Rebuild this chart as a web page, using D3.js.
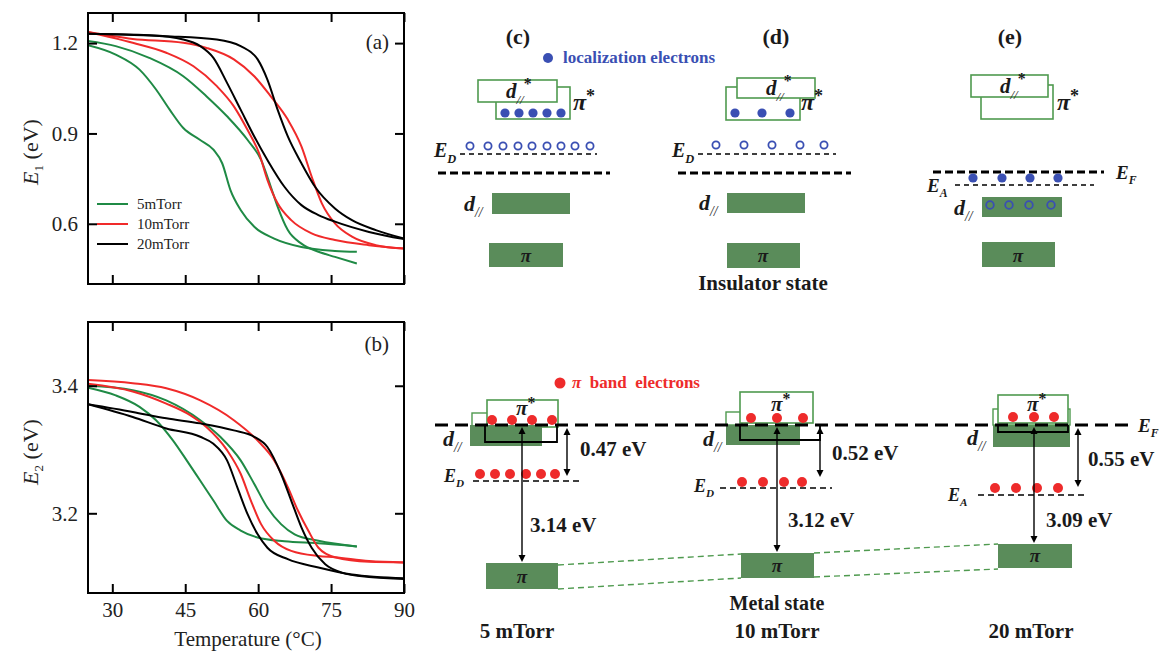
<!DOCTYPE html>
<html>
<head>
<meta charset="utf-8">
<script src="https://cdn.jsdelivr.net/npm/d3@7"></script>
<style>
  html, body { margin: 0; padding: 0; background: #fff; }
  svg { display: block; }
  text { font-family: "Liberation Serif", "Times New Roman", serif; }
</style>
</head>
<body>
<script>
// ---------------- DATA ----------------
const pressures = ["5mTorr", "10mTorr", "20mTorr"];
const seriesColors = ["#1f8a45", "#f02a2a", "#000000"];
const xTicks = [30, 45, 60, 75, 90];
const e1Ticks = [0.6, 0.9, 1.2];
const e2Ticks = [3.2, 3.4];

// E1 (eV) vs temperature, two branches per pressure
const e1_5_a = [[25,1.193],[30.7,1.162],[35.6,1.112],[39,1.046],[41.8,0.979],[44.6,0.918],[48,0.879],[50.8,0.846],[52.6,0.801],[54.3,0.712],[56.4,0.646],[59.2,0.590],[63.3,0.551],[68.9,0.523],[75.8,0.510],[80.3,0.507]];
const e1_5_b = [[25,1.207],[30.7,1.19],[37.6,1.151],[44.6,1.09],[49.4,1.023],[53.6,0.957],[57.8,0.879],[60.6,0.812],[62.6,0.723],[64.0,0.657],[66.1,0.579],[68.9,0.534],[72.4,0.507],[75.8,0.49],[80.3,0.468]];
const e1_10_a = [[25,1.237],[34.2,1.201],[41.1,1.168],[46.7,1.123],[51.5,1.057],[55.0,0.99],[57.8,0.912],[60.2,0.834],[61.9,0.746],[64.0,0.668],[66.8,0.612],[71.0,0.568],[75.8,0.546],[82.8,0.529],[90,0.518]];
const e1_10_b = [[25,1.237],[34.2,1.214],[44.6,1.201],[49.4,1.184],[55.0,1.146],[59.2,1.09],[62.6,1.023],[66.1,0.946],[68.9,0.857],[71.0,0.757],[73.1,0.668],[75.8,0.601],[79.3,0.557],[84.2,0.529],[90,0.518]];
const e1_20_a = [[25,1.231],[37.6,1.226],[44.6,1.212],[48.1,1.19],[50.8,1.151],[53.6,1.068],[56.4,0.979],[59.2,0.89],[61.9,0.812],[65.4,0.723],[68.9,0.662],[72.4,0.629],[75.8,0.607],[82.8,0.573],[90,0.549]];
const e1_20_b = [[25,1.231],[41.1,1.223],[51.5,1.212],[56.4,1.19],[59.9,1.146],[61.9,1.079],[64.0,0.979],[66.1,0.89],[68.9,0.801],[71.7,0.723],[75.8,0.651],[79.3,0.612],[84.2,0.579],[90,0.551]];

// E2 (eV) vs temperature
const e2_5_a = [[25,3.397],[30.7,3.385],[35.6,3.367],[39,3.346],[42.5,3.314],[45.3,3.283],[48.1,3.251],[50.8,3.22],[53.6,3.188],[56.4,3.173],[59.9,3.162],[65.4,3.156],[72.4,3.153],[80.3,3.148]];
const e2_5_b = [[25,3.4],[34.2,3.393],[41.1,3.377],[48.1,3.346],[52.2,3.320],[56.4,3.283],[59.2,3.246],[61.9,3.209],[64.7,3.183],[67.5,3.167],[72.4,3.157],[80.3,3.148]];
const e2_10_a = [[25,3.403],[34.2,3.391],[41.1,3.372],[46,3.354],[49.4,3.335],[53.6,3.299],[56.4,3.262],[58.5,3.220],[60.6,3.183],[63.3,3.157],[66.8,3.141],[72.4,3.133],[75.8,3.131],[82.8,3.125],[90,3.123]];
const e2_10_b = [[25,3.409],[34.2,3.404],[41.1,3.396],[48.1,3.377],[55.0,3.346],[59.9,3.314],[63.3,3.283],[66.1,3.241],[68.2,3.204],[70.3,3.173],[72.4,3.146],[75.8,3.131],[82.8,3.124],[90,3.123]];
const e2_20_a = [[25,3.371],[34.2,3.351],[41.1,3.333],[48.1,3.320],[50.8,3.309],[53.6,3.283],[55.7,3.241],[57.8,3.199],[59.9,3.167],[61.9,3.146],[66.1,3.128],[72.4,3.115],[79.3,3.104],[90,3.098]];
const e2_20_b = [[25,3.371],[34.2,3.359],[41.1,3.349],[48.1,3.341],[55.0,3.330],[59.2,3.320],[61.9,3.304],[64.7,3.262],[66.8,3.220],[68.9,3.178],[71.0,3.146],[73.8,3.120],[77.2,3.107],[82.8,3.100],[90,3.097]];

// band-diagram annotations
const panelLetters = ["(c)", "(d)", "(e)"];
const sampleLabels = ["5 mTorr", "10 mTorr", "20 mTorr"];
const activationGaps = ["0.47 eV", "0.52 eV", "0.55 eV"];
const opticalGaps = ["3.14 eV", "3.12 eV", "3.09 eV"];

// ---------------- SETUP ----------------
const W = 1159, H = 651;
const SERIF = "Liberation Serif, Times New Roman, serif";
const svg = d3.select("body").append("svg").attr("width", W).attr("height", H);

const x = d3.scaleLinear().domain([25, 90]).range([88, 404]);
const yA = d3.scaleLinear().domain([0.4, 1.3]).range([284, 13]);
const yB = d3.scaleLinear().domain([3.075, 3.5]).range([593, 322]);

function drawPanel(y, series, yTicks, showX, letter, letterY, yLabelSub, yLabelCenter) {
  const g = svg.append("g");
  const [y0, y1] = y.range();
  const clipId = "clip" + letter.replace(/\W/g, "");
  svg.append("clipPath").attr("id", clipId).append("rect")
    .attr("x", x.range()[0]).attr("y", y1).attr("width", x.range()[1] - x.range()[0]).attr("height", y0 - y1);
  const line = d3.line().x(d => x(d[0])).y(d => y(d[1])).curve(d3.curveMonotoneX);
  const lg = g.append("g").attr("clip-path", `url(#${clipId})`);
  series.forEach(s => {
    lg.append("path").datum(s.data).attr("d", line)
      .attr("fill", "none").attr("stroke", s.color).attr("stroke-width", 2);
  });
  const axL = g.append("g").attr("transform", `translate(${x.range()[0]},0)`)
    .call(d3.axisLeft(y).tickValues(yTicks).tickFormat(d3.format(".1f")).tickSizeInner(-9).tickSizeOuter(0).tickPadding(10));
  const axR = g.append("g").attr("transform", `translate(${x.range()[1]},0)`)
    .call(d3.axisRight(y).tickValues(yTicks).tickFormat("").tickSizeInner(-9).tickSizeOuter(0));
  const axB = g.append("g").attr("transform", `translate(0,${y0})`)
    .call(d3.axisBottom(x).tickValues(xTicks).tickFormat(showX ? d3.format("d") : "").tickSizeInner(-9).tickSizeOuter(0).tickPadding(9));
  const axT = g.append("g").attr("transform", `translate(0,${y1})`)
    .call(d3.axisTop(x).tickValues(xTicks).tickFormat("").tickSizeInner(-9).tickSizeOuter(0));
  [axL, axR, axB, axT].forEach(a => {
    a.attr("font-family", SERIF);
    a.select(".domain").remove();
    a.selectAll(".tick line").attr("stroke", "#000").attr("stroke-width", 2);
    a.selectAll("text").attr("font-family", SERIF).attr("font-size", 21).attr("fill", "#222");
  });
  g.append("rect").attr("x", x.range()[0]).attr("y", y1)
    .attr("width", x.range()[1] - x.range()[0]).attr("height", y0 - y1)
    .attr("fill", "none").attr("stroke", "#000").attr("stroke-width", 2);
  g.append("text").attr("x", 389).attr("y", letterY).attr("text-anchor", "end")
    .attr("font-size", 21).attr("fill", "#222").text(letter);
  const yl = g.append("text").attr("transform", `translate(38,${yLabelCenter}) rotate(-90)`)
    .attr("text-anchor", "middle").attr("font-size", 22).attr("fill", "#222");
  yl.append("tspan").attr("font-style", "italic").text("E");
  yl.append("tspan").attr("font-size", 13).attr("dy", 5).text(yLabelSub);
  yl.append("tspan").attr("dy", -5).text(" (eV)");
  return g;
}

const seriesA = [
  {data: e1_5_a, color: seriesColors[0]}, {data: e1_5_b, color: seriesColors[0]},
  {data: e1_10_a, color: seriesColors[1]}, {data: e1_10_b, color: seriesColors[1]},
  {data: e1_20_a, color: seriesColors[2]}, {data: e1_20_b, color: seriesColors[2]}
];
const seriesB = [
  {data: e2_5_a, color: seriesColors[0]}, {data: e2_5_b, color: seriesColors[0]},
  {data: e2_10_a, color: seriesColors[1]}, {data: e2_10_b, color: seriesColors[1]},
  {data: e2_20_a, color: seriesColors[2]}, {data: e2_20_b, color: seriesColors[2]}
];
drawPanel(yA, seriesA, e1Ticks, false, "(a)", 49, "1", 152);
drawPanel(yB, seriesB, e2Ticks, true, "(b)", 351, "2", 452);

svg.append("text").attr("x", (x.range()[0] + x.range()[1]) / 2 + 2).attr("y", 646)
  .attr("text-anchor", "middle").attr("font-size", 21).attr("fill", "#222").text("Temperature (°C)");

// legend
const legend = svg.append("g");
pressures.forEach((p, i) => {
  const ly = 204 + i * 20;
  legend.append("line").attr("x1", 97).attr("x2", 128).attr("y1", ly).attr("y2", ly)
    .attr("stroke", seriesColors[i]).attr("stroke-width", 2);
  legend.append("text").attr("x", 137).attr("y", ly + 5).attr("font-size", 15).attr("fill", "#222").text(p);
});

// ---------------- BAND DIAGRAMS ----------------
const GREEN = "#5a8c5a", GREEN_LINE = "#4f9a4f", BLUE = "#3a4fb3", RED = "#ee2b2b";
const D = svg.append("g");

function rect(x0, y0, x1, y1, fill, stroke, sw) {
  return D.append("rect").attr("x", x0).attr("y", y0).attr("width", x1 - x0).attr("height", y1 - y0)
    .attr("fill", fill).attr("stroke", stroke || "none").attr("stroke-width", sw || 0);
}
function dash(x0, x1, yy, w, pattern, color) {
  return D.append("line").attr("x1", x0).attr("x2", x1).attr("y1", yy).attr("y2", yy)
    .attr("stroke", color || "#000").attr("stroke-width", w).attr("stroke-dasharray", pattern);
}
function dot(cx, cy, r, color, hollow) {
  return D.append("circle").attr("cx", cx).attr("cy", cy).attr("r", r)
    .attr("fill", hollow ? "none" : color).attr("stroke", hollow ? color : "none").attr("stroke-width", hollow ? 1.8 : 0);
}
function sym(xx, yy, main, sub, sup, size, anchor) {
  size = size || 20;
  const t = D.append("text").attr("x", xx).attr("y", yy).attr("font-size", size)
    .attr("font-weight", "bold").attr("fill", "#1a1a1a")
    .attr("text-anchor", anchor || "start");
  t.append("tspan").attr("font-style", "italic").text(main);
  if (sub) t.append("tspan").attr("font-size", size * 0.62).attr("dy", size * 0.28)
    .attr("font-style", "italic").attr("font-weight", sub === "//" ? "normal" : "bold").text(sub);
  if (sup) t.append("tspan").attr("font-size", size * 0.75).attr("dy", sub ? -size * 0.72 : -size * 0.35)
    .attr("font-style", "normal").attr("font-weight", "bold").attr("fill", "#1a1a1a").text(sup);
  return t;
}
function text(xx, yy, s, size, anchor, color) {
  return D.append("text").attr("x", xx).attr("y", yy).attr("font-size", size).attr("font-weight", "bold")
    .attr("fill", color || "#1a1a1a").attr("text-anchor", anchor || "middle").text(s);
}
function arrow(xx, ya, yb) {
  D.append("line").attr("x1", xx).attr("x2", xx).attr("y1", ya + 5).attr("y2", yb - 5)
    .attr("stroke", "#000").attr("stroke-width", 1.4);
  D.append("path").attr("d", `M${xx - 3.5},${ya + 7} L${xx},${ya} L${xx + 3.5},${ya + 7} Z`).attr("fill", "#000");
  D.append("path").attr("d", `M${xx - 3.5},${yb - 7} L${xx},${yb} L${xx + 3.5},${yb - 7} Z`).attr("fill", "#000");
}

// panel letters
[518, 776, 1010].forEach((cx, i) => text(cx, 44, panelLetters[i], 22, "middle"));

// legend: localization electrons
dot(548, 58, 5, BLUE);
text(563, 63, "localization electrons", 17, "start", BLUE);

// ---- (c) ----
rect(496, 87, 570, 119, "#fff", GREEN_LINE, 1.6);
rect(478, 80, 557, 102, "#fff", GREEN_LINE, 1.6);
sym(506, 98, "d", "//", "*", 21);
[505, 519, 533, 547, 561].forEach(cx => dot(cx, 113, 4.6, BLUE));
sym(573, 110, "π", null, "*", 24);
sym(434, 157, "E", "D", null, 20);
dash(460, 597, 154, 1.3, "5,4");
[470, 488, 503, 518, 532, 547, 561, 575, 590].forEach(cx => dot(cx, 146, 3.6, BLUE, true));
dash(438, 610, 173, 2.8, "8,4");
rect(492, 193, 570, 214, GREEN);
sym(464, 211, "d", "//", null, 22);
rect(489, 243, 563, 267, GREEN);
sym(526, 262, "π", null, null, 19, "middle");

// ---- (d) ----
rect(726, 87, 800, 120, "#fff", GREEN_LINE, 1.6);
rect(737, 78, 815, 98, "#fff", GREEN_LINE, 1.6);
sym(766, 95, "d", "//", "*", 21);
[735, 762, 790].forEach(cx => dot(cx, 113, 4.6, BLUE));
sym(801, 110, "π", null, "*", 24);
sym(672, 157, "E", "D", null, 20);
dash(698, 836, 154, 1.3, "5,4");
[716, 744, 772, 800, 824].forEach(cx => dot(cx, 145, 3.6, BLUE, true));
dash(678, 851, 173, 2.8, "8,4");
rect(727, 193, 805, 213, GREEN);
sym(699, 210, "d", "//", null, 22);
rect(727, 243, 800, 268, GREEN);
sym(763, 262, "π", null, null, 19, "middle");
text(763, 290, "Insulator state", 21, "middle");

// ---- (e) ----
rect(981, 85, 1053, 119, "#fff", GREEN_LINE, 1.6);
rect(971, 75, 1048, 97, "#fff", GREEN_LINE, 1.6);
sym(1000, 93, "d", "//", "*", 21);
sym(1057, 110, "π", null, "*", 24);
dash(933, 1104, 172, 2.8, "8,4");
sym(1116, 179, "E", "F", null, 19);
dash(955, 1094, 185, 1.3, "5,4");
sym(927, 192, "E", "A", null, 19);
[973, 1002, 1030, 1058].forEach(cx => dot(cx, 178, 4.6, BLUE));
rect(982, 197, 1062, 217, GREEN);
[990, 1009, 1029, 1051].forEach(cx => dot(cx, 205, 3.8, BLUE, true));
sym(954, 215, "d", "//", null, 22);
rect(982, 242, 1055, 267, GREEN);
sym(1018, 262, "π", null, null, 19, "middle");

// ---- bottom row ----
dot(560, 383, 5.5, RED);
const leg2 = D.append("text").attr("x", 572).attr("y", 388).attr("font-size", 17).attr("font-weight", "bold").attr("fill", RED);
leg2.append("tspan").attr("font-style", "italic").text("π");
leg2.append("tspan").attr("xml:space", "preserve").text("\u00a0 band\u00a0 electrons");

// green dashed connectors between π bands
D.append("line").attr("x1", 558).attr("y1", 565).attr("x2", 741).attr("y2", 554).attr("stroke", GREEN_LINE).attr("stroke-width", 1.4).attr("stroke-dasharray", "6,4");
D.append("line").attr("x1", 558).attr("y1", 589).attr("x2", 741).attr("y2", 578).attr("stroke", GREEN_LINE).attr("stroke-width", 1.4).attr("stroke-dasharray", "6,4");
D.append("line").attr("x1", 814).attr("y1", 553).attr("x2", 998).attr("y2", 544).attr("stroke", GREEN_LINE).attr("stroke-width", 1.4).attr("stroke-dasharray", "6,4");
D.append("line").attr("x1", 814).attr("y1", 577).attr("x2", 998).attr("y2", 569).attr("stroke", GREEN_LINE).attr("stroke-width", 1.4).attr("stroke-dasharray", "6,4");

// 5 mTorr
rect(472, 413, 500, 427, "#fff", GREEN_LINE, 1.4);
rect(487, 400, 558, 427, "#fff", GREEN_LINE, 1.6);
rect(470, 425, 542, 446, GREEN);
D.append("path").attr("d", "M485,425 V442 H557 V425").attr("fill", "none").attr("stroke", "#000").attr("stroke-width", 1.8);
[492, 512, 532, 552].forEach(cx => dot(cx, 420, 5, RED));
sym(516, 415, "π", null, "*", 21);
sym(443, 446, "d", "//", null, 22);
sym(444, 482, "E", "D", null, 18);
dash(473, 580, 481, 1.3, "6,4");
[480, 495, 510, 526, 541, 555].forEach(cx => dot(cx, 474, 5, RED));
rect(486, 563, 558, 589, GREEN);
sym(522, 583, "π", null, null, 19, "middle");
arrow(522, 427, 562);
arrow(567, 428, 476);
text(580, 456, activationGaps[0], 21, "start");
text(530, 532, opticalGaps[0], 21, "start");
text(517, 638, sampleLabels[0], 21, "middle");

// 10 mTorr
rect(726, 412, 742, 425, "#fff", GREEN_LINE, 1.4);
rect(740, 392, 813, 423, "#fff", GREEN_LINE, 1.6);
rect(726, 425, 800, 445, GREEN);
D.append("path").attr("d", "M740,425 V440 H820 V425").attr("fill", "none").attr("stroke", "#000").attr("stroke-width", 1.8);
[751, 777, 803].forEach(cx => dot(cx, 418, 5, RED));
sym(771, 411, "π", null, "*", 21);
sym(703, 446, "d", "//", null, 22);
sym(694, 492, "E", "D", null, 18);
dash(720, 832, 488, 1.3, "6,4");
[742, 763, 784, 802].forEach(cx => dot(cx, 482, 5, RED));
rect(741, 553, 814, 578, GREEN);
sym(777, 572, "π", null, null, 19, "middle");
arrow(777, 427, 552);
arrow(820, 427, 477);
text(832, 460, activationGaps[1], 21, "start");
text(788, 527, opticalGaps[1], 21, "start");
text(777, 610, "Metal state", 20, "middle");
text(777, 638, sampleLabels[1], 21, "middle");

// 20 mTorr
rect(993, 409, 1070, 447, GREEN);
rect(993, 409, 1070, 425, "#fff", GREEN_LINE, 1.4);
rect(998, 395, 1068, 423, "#fff", GREEN_LINE, 1.6);
D.append("path").attr("d", "M998,425 V432 H1068 V425").attr("fill", "none").attr("stroke", "#000").attr("stroke-width", 1.8);
[1013, 1034, 1054].forEach(cx => dot(cx, 417, 5, RED));
sym(1027, 411, "π", null, "*", 21);
sym(967, 445, "d", "//", null, 22);
sym(948, 501, "E", "A", null, 18);
dash(978, 1086, 495, 1.3, "6,4");
[995, 1016, 1037, 1058].forEach(cx => dot(cx, 488, 5, RED));
rect(998, 544, 1072, 568, GREEN);
sym(1035, 562, "π", null, null, 19, "middle");
arrow(1034, 427, 543);
arrow(1078, 428, 487);
text(1088, 466, activationGaps[2], 21, "start");
text(1046, 527, opticalGaps[2], 21, "start");
text(1031, 638, sampleLabels[2], 21, "middle");

// Fermi level across bottom row
dash(435, 1134, 425, 3, "13,7");
sym(1138, 432, "E", "F", null, 19);
</script>
</body>
</html>
